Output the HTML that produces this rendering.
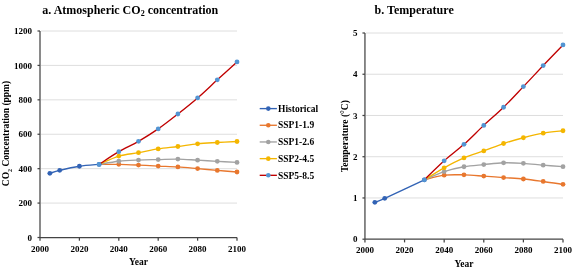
<!DOCTYPE html><html><head><meta charset="utf-8"><style>
html,body{margin:0;padding:0;background:#fff;width:575px;height:271px;overflow:hidden}
svg{display:block;filter:blur(0.35px)}
text{font-family:'Liberation Serif',serif;font-weight:bold;fill:#000}
</style></head><body>
<svg width="575" height="271" viewBox="0 0 575 271">
<line x1="41.0" y1="203.08" x2="237.0" y2="203.08" stroke="#DEDEDE" stroke-width="1"/>
<line x1="41.0" y1="168.67" x2="237.0" y2="168.67" stroke="#DEDEDE" stroke-width="1"/>
<line x1="41.0" y1="134.25" x2="237.0" y2="134.25" stroke="#DEDEDE" stroke-width="1"/>
<line x1="41.0" y1="99.83" x2="237.0" y2="99.83" stroke="#DEDEDE" stroke-width="1"/>
<line x1="41.0" y1="65.42" x2="237.0" y2="65.42" stroke="#DEDEDE" stroke-width="1"/>
<line x1="41.0" y1="31.00" x2="237.0" y2="31.00" stroke="#DEDEDE" stroke-width="1"/>
<line x1="40.0" y1="31.0" x2="40.0" y2="237.5" stroke="#444444" stroke-width="1.25"/>
<line x1="40.0" y1="237.5" x2="237.0" y2="237.5" stroke="#444444" stroke-width="1.25"/>
<line x1="37.5" y1="237.50" x2="40.0" y2="237.50" stroke="#444444" stroke-width="1.25"/>
<text x="32.0" y="240.70" font-size="9" text-anchor="end">0</text>
<line x1="37.5" y1="203.08" x2="40.0" y2="203.08" stroke="#444444" stroke-width="1.25"/>
<text x="32.0" y="206.28" font-size="9" text-anchor="end">200</text>
<line x1="37.5" y1="168.67" x2="40.0" y2="168.67" stroke="#444444" stroke-width="1.25"/>
<text x="32.0" y="171.87" font-size="9" text-anchor="end">400</text>
<line x1="37.5" y1="134.25" x2="40.0" y2="134.25" stroke="#444444" stroke-width="1.25"/>
<text x="32.0" y="137.45" font-size="9" text-anchor="end">600</text>
<line x1="37.5" y1="99.83" x2="40.0" y2="99.83" stroke="#444444" stroke-width="1.25"/>
<text x="32.0" y="103.03" font-size="9" text-anchor="end">800</text>
<line x1="37.5" y1="65.42" x2="40.0" y2="65.42" stroke="#444444" stroke-width="1.25"/>
<text x="32.0" y="68.62" font-size="9" text-anchor="end">1000</text>
<line x1="37.5" y1="31.00" x2="40.0" y2="31.00" stroke="#444444" stroke-width="1.25"/>
<text x="32.0" y="34.20" font-size="9" text-anchor="end">1200</text>
<line x1="40.00" y1="237.5" x2="40.00" y2="240.7" stroke="#444444" stroke-width="1.25"/>
<text x="40.00" y="251.5" font-size="9" text-anchor="middle">2000</text>
<line x1="79.40" y1="237.5" x2="79.40" y2="240.7" stroke="#444444" stroke-width="1.25"/>
<text x="79.40" y="251.5" font-size="9" text-anchor="middle">2020</text>
<line x1="118.80" y1="237.5" x2="118.80" y2="240.7" stroke="#444444" stroke-width="1.25"/>
<text x="118.80" y="251.5" font-size="9" text-anchor="middle">2040</text>
<line x1="158.20" y1="237.5" x2="158.20" y2="240.7" stroke="#444444" stroke-width="1.25"/>
<text x="158.20" y="251.5" font-size="9" text-anchor="middle">2060</text>
<line x1="197.60" y1="237.5" x2="197.60" y2="240.7" stroke="#444444" stroke-width="1.25"/>
<text x="197.60" y="251.5" font-size="9" text-anchor="middle">2080</text>
<line x1="237.00" y1="237.5" x2="237.00" y2="240.7" stroke="#444444" stroke-width="1.25"/>
<text x="237.00" y="251.5" font-size="9" text-anchor="middle">2100</text>
<text x="138.4" y="265" font-size="9.5" text-anchor="middle">Year</text>
<text transform="translate(9.2,133.5) rotate(-90)" font-size="9.5" text-anchor="middle">CO<tspan font-size="6" dy="2.3">2</tspan><tspan dy="-2.3"> Concentration (ppm)</tspan></text>
<text x="42.3" y="13.8" font-size="12">a. Atmospheric CO<tspan font-size="8" dy="2.5">2</tspan><tspan dy="-2.5"> concentration</tspan></text>
<path d="M99.10,164.40 C102.38,164.39 112.23,164.26 118.80,164.36 C125.37,164.47 131.93,164.77 138.50,165.05 C145.07,165.34 151.63,165.77 158.20,166.09 C164.77,166.40 171.33,166.52 177.90,166.95 C184.47,167.37 191.03,168.04 197.60,168.62 C204.17,169.19 210.73,169.85 217.30,170.42 C223.87,170.99 233.72,171.76 237.00,172.02" fill="none" stroke="#E8772E" stroke-width="1.35" stroke-linejoin="round"/>
<circle cx="118.80" cy="164.36" r="2.4" fill="#E8772E"/>
<circle cx="138.50" cy="165.05" r="2.4" fill="#E8772E"/>
<circle cx="158.20" cy="166.09" r="2.4" fill="#E8772E"/>
<circle cx="177.90" cy="166.95" r="2.4" fill="#E8772E"/>
<circle cx="197.60" cy="168.62" r="2.4" fill="#E8772E"/>
<circle cx="217.30" cy="170.42" r="2.4" fill="#E8772E"/>
<circle cx="237.00" cy="172.02" r="2.4" fill="#E8772E"/>
<path d="M99.10,164.40 C102.38,163.88 112.23,161.99 118.80,161.27 C125.37,160.54 131.93,160.35 138.50,160.06 C145.07,159.78 151.63,159.71 158.20,159.55 C164.77,159.39 171.33,158.99 177.90,159.10 C184.47,159.21 191.03,159.83 197.60,160.20 C204.17,160.57 210.73,160.93 217.30,161.30 C223.87,161.67 233.72,162.22 237.00,162.40" fill="none" stroke="#A2A2A2" stroke-width="1.35" stroke-linejoin="round"/>
<circle cx="118.80" cy="161.27" r="2.4" fill="#A2A2A2"/>
<circle cx="138.50" cy="160.06" r="2.4" fill="#A2A2A2"/>
<circle cx="158.20" cy="159.55" r="2.4" fill="#A2A2A2"/>
<circle cx="177.90" cy="159.10" r="2.4" fill="#A2A2A2"/>
<circle cx="197.60" cy="160.20" r="2.4" fill="#A2A2A2"/>
<circle cx="217.30" cy="161.30" r="2.4" fill="#A2A2A2"/>
<circle cx="237.00" cy="162.40" r="2.4" fill="#A2A2A2"/>
<path d="M99.10,164.40 C102.38,163.02 112.23,158.06 118.80,156.10 C125.37,154.15 131.93,153.87 138.50,152.66 C145.07,151.46 151.63,149.90 158.20,148.88 C164.77,147.85 171.33,147.35 177.90,146.50 C184.47,145.66 191.03,144.47 197.60,143.80 C204.17,143.14 210.73,142.90 217.30,142.51 C223.87,142.12 233.72,141.65 237.00,141.48" fill="none" stroke="#F4B600" stroke-width="1.35" stroke-linejoin="round"/>
<circle cx="118.80" cy="156.10" r="2.4" fill="#F4B600"/>
<circle cx="138.50" cy="152.66" r="2.4" fill="#F4B600"/>
<circle cx="158.20" cy="148.88" r="2.4" fill="#F4B600"/>
<circle cx="177.90" cy="146.50" r="2.4" fill="#F4B600"/>
<circle cx="197.60" cy="143.80" r="2.4" fill="#F4B600"/>
<circle cx="217.30" cy="142.51" r="2.4" fill="#F4B600"/>
<circle cx="237.00" cy="141.48" r="2.4" fill="#F4B600"/>
<path d="M49.85,173.31 C51.49,172.81 54.78,171.48 59.70,170.30 C64.62,169.13 72.83,167.24 79.40,166.26 C85.97,165.27 95.82,164.71 99.10,164.40" fill="none" stroke="#3263B5" stroke-width="1.35" stroke-linejoin="round"/>
<circle cx="49.85" cy="173.31" r="2.4" fill="#3263B5"/>
<circle cx="59.70" cy="170.30" r="2.4" fill="#3263B5"/>
<circle cx="79.40" cy="166.26" r="2.4" fill="#3263B5"/>
<circle cx="99.10" cy="164.40" r="2.4" fill="#3263B5"/>
<path d="M99.10,164.40 C102.38,162.28 112.23,155.55 118.80,151.70 C125.37,147.85 131.93,145.10 138.50,141.31 C145.07,137.51 151.63,133.47 158.20,128.92 C164.77,124.36 171.33,119.16 177.90,114.00 C184.47,108.83 191.03,103.63 197.60,97.94 C204.17,92.25 210.73,85.87 217.30,79.87 C223.87,73.88 233.72,64.96 237.00,61.97" fill="none" stroke="#C00000" stroke-width="1.35" stroke-linejoin="round"/>
<circle cx="99.10" cy="164.40" r="2.4" fill="#5395D3"/>
<circle cx="118.80" cy="151.70" r="2.4" fill="#5395D3"/>
<circle cx="138.50" cy="141.31" r="2.4" fill="#5395D3"/>
<circle cx="158.20" cy="128.92" r="2.4" fill="#5395D3"/>
<circle cx="177.90" cy="114.00" r="2.4" fill="#5395D3"/>
<circle cx="197.60" cy="97.94" r="2.4" fill="#5395D3"/>
<circle cx="217.30" cy="79.87" r="2.4" fill="#5395D3"/>
<circle cx="237.00" cy="61.97" r="2.4" fill="#5395D3"/>
<line x1="365.95" y1="197.96" x2="563.0" y2="197.96" stroke="#DEDEDE" stroke-width="1"/>
<line x1="365.95" y1="156.72" x2="563.0" y2="156.72" stroke="#DEDEDE" stroke-width="1"/>
<line x1="365.95" y1="115.48" x2="563.0" y2="115.48" stroke="#DEDEDE" stroke-width="1"/>
<line x1="365.95" y1="74.24" x2="563.0" y2="74.24" stroke="#DEDEDE" stroke-width="1"/>
<line x1="365.95" y1="33.00" x2="563.0" y2="33.00" stroke="#DEDEDE" stroke-width="1"/>
<line x1="364.95" y1="33.0" x2="364.95" y2="239.2" stroke="#444444" stroke-width="1.25"/>
<line x1="364.95" y1="239.2" x2="563.0" y2="239.2" stroke="#444444" stroke-width="1.25"/>
<line x1="362.45" y1="239.20" x2="364.95" y2="239.20" stroke="#444444" stroke-width="1.25"/>
<text x="357.45" y="242.40" font-size="9" text-anchor="end">0</text>
<line x1="362.45" y1="197.96" x2="364.95" y2="197.96" stroke="#444444" stroke-width="1.25"/>
<text x="357.45" y="201.16" font-size="9" text-anchor="end">1</text>
<line x1="362.45" y1="156.72" x2="364.95" y2="156.72" stroke="#444444" stroke-width="1.25"/>
<text x="357.45" y="159.92" font-size="9" text-anchor="end">2</text>
<line x1="362.45" y1="115.48" x2="364.95" y2="115.48" stroke="#444444" stroke-width="1.25"/>
<text x="357.45" y="118.68" font-size="9" text-anchor="end">3</text>
<line x1="362.45" y1="74.24" x2="364.95" y2="74.24" stroke="#444444" stroke-width="1.25"/>
<text x="357.45" y="77.44" font-size="9" text-anchor="end">4</text>
<line x1="362.45" y1="33.00" x2="364.95" y2="33.00" stroke="#444444" stroke-width="1.25"/>
<text x="357.45" y="36.20" font-size="9" text-anchor="end">5</text>
<line x1="364.95" y1="239.2" x2="364.95" y2="242.39999999999998" stroke="#444444" stroke-width="1.25"/>
<text x="364.95" y="253.2" font-size="9" text-anchor="middle">2000</text>
<line x1="404.56" y1="239.2" x2="404.56" y2="242.39999999999998" stroke="#444444" stroke-width="1.25"/>
<text x="404.56" y="253.2" font-size="9" text-anchor="middle">2020</text>
<line x1="444.17" y1="239.2" x2="444.17" y2="242.39999999999998" stroke="#444444" stroke-width="1.25"/>
<text x="444.17" y="253.2" font-size="9" text-anchor="middle">2040</text>
<line x1="483.78" y1="239.2" x2="483.78" y2="242.39999999999998" stroke="#444444" stroke-width="1.25"/>
<text x="483.78" y="253.2" font-size="9" text-anchor="middle">2060</text>
<line x1="523.39" y1="239.2" x2="523.39" y2="242.39999999999998" stroke="#444444" stroke-width="1.25"/>
<text x="523.39" y="253.2" font-size="9" text-anchor="middle">2080</text>
<line x1="563.00" y1="239.2" x2="563.00" y2="242.39999999999998" stroke="#444444" stroke-width="1.25"/>
<text x="563.00" y="253.2" font-size="9" text-anchor="middle">2100</text>
<text x="463.9" y="267.2" font-size="9.5" text-anchor="middle">Year</text>
<text transform="translate(347.8,136.2) rotate(-90)" font-size="9.5" text-anchor="middle">Temperature (°C)</text>
<text x="374.6" y="13.6" font-size="12">b. Temperature</text>
<path d="M424.37,179.81 C427.67,179.04 437.57,176.02 444.17,175.20 C450.77,174.37 457.37,174.71 463.98,174.87 C470.58,175.02 477.18,175.65 483.78,176.10 C490.38,176.56 496.98,177.11 503.58,177.59 C510.19,178.07 516.79,178.34 523.39,178.99 C529.99,179.64 536.59,180.57 543.19,181.46 C549.80,182.36 559.70,183.87 563.00,184.35" fill="none" stroke="#E8772E" stroke-width="1.35" stroke-linejoin="round"/>
<circle cx="444.17" cy="175.20" r="2.4" fill="#E8772E"/>
<circle cx="463.98" cy="174.87" r="2.4" fill="#E8772E"/>
<circle cx="483.78" cy="176.10" r="2.4" fill="#E8772E"/>
<circle cx="503.58" cy="177.59" r="2.4" fill="#E8772E"/>
<circle cx="523.39" cy="178.99" r="2.4" fill="#E8772E"/>
<circle cx="543.19" cy="181.46" r="2.4" fill="#E8772E"/>
<circle cx="563.00" cy="184.35" r="2.4" fill="#E8772E"/>
<path d="M424.37,179.81 C427.67,178.44 437.57,173.75 444.17,171.57 C450.77,169.39 457.37,167.91 463.98,166.74 C470.58,165.57 477.18,165.22 483.78,164.56 C490.38,163.90 496.98,162.99 503.58,162.78 C510.19,162.58 516.79,162.92 523.39,163.32 C529.99,163.72 536.59,164.61 543.19,165.17 C549.80,165.74 559.70,166.45 563.00,166.70" fill="none" stroke="#A2A2A2" stroke-width="1.35" stroke-linejoin="round"/>
<circle cx="444.17" cy="171.57" r="2.4" fill="#A2A2A2"/>
<circle cx="463.98" cy="166.74" r="2.4" fill="#A2A2A2"/>
<circle cx="483.78" cy="164.56" r="2.4" fill="#A2A2A2"/>
<circle cx="503.58" cy="162.78" r="2.4" fill="#A2A2A2"/>
<circle cx="523.39" cy="163.32" r="2.4" fill="#A2A2A2"/>
<circle cx="543.19" cy="165.17" r="2.4" fill="#A2A2A2"/>
<circle cx="563.00" cy="166.70" r="2.4" fill="#A2A2A2"/>
<path d="M424.37,179.81 C427.67,177.82 437.57,171.50 444.17,167.85 C450.77,164.21 457.37,160.78 463.98,157.96 C470.58,155.14 477.18,153.35 483.78,150.95 C490.38,148.54 496.98,145.72 503.58,143.52 C510.19,141.32 516.79,139.47 523.39,137.75 C529.99,136.03 536.59,134.38 543.19,133.21 C549.80,132.04 559.70,131.15 563.00,130.74" fill="none" stroke="#F4B600" stroke-width="1.35" stroke-linejoin="round"/>
<circle cx="444.17" cy="167.85" r="2.4" fill="#F4B600"/>
<circle cx="463.98" cy="157.96" r="2.4" fill="#F4B600"/>
<circle cx="483.78" cy="150.95" r="2.4" fill="#F4B600"/>
<circle cx="503.58" cy="143.52" r="2.4" fill="#F4B600"/>
<circle cx="523.39" cy="137.75" r="2.4" fill="#F4B600"/>
<circle cx="543.19" cy="133.21" r="2.4" fill="#F4B600"/>
<circle cx="563.00" cy="130.74" r="2.4" fill="#F4B600"/>
<path d="M374.85,202.29 C376.50,201.64 376.50,202.12 384.75,198.37 C393.01,194.63 417.76,182.91 424.37,179.81" fill="none" stroke="#3263B5" stroke-width="1.35" stroke-linejoin="round"/>
<circle cx="374.85" cy="202.29" r="2.4" fill="#3263B5"/>
<circle cx="384.75" cy="198.37" r="2.4" fill="#3263B5"/>
<circle cx="424.37" cy="179.81" r="2.4" fill="#3263B5"/>
<path d="M424.37,179.81 C427.67,176.65 437.57,166.76 444.17,160.84 C450.77,154.93 457.37,150.26 463.98,144.35 C470.58,138.44 477.18,131.56 483.78,125.38 C490.38,119.19 496.98,113.69 503.58,107.23 C510.19,100.77 516.79,93.55 523.39,86.61 C529.99,79.67 536.59,72.52 543.19,65.58 C549.80,58.64 559.70,48.40 563.00,44.96" fill="none" stroke="#C00000" stroke-width="1.35" stroke-linejoin="round"/>
<circle cx="424.37" cy="179.81" r="2.4" fill="#5395D3"/>
<circle cx="444.17" cy="160.84" r="2.4" fill="#5395D3"/>
<circle cx="463.98" cy="144.35" r="2.4" fill="#5395D3"/>
<circle cx="483.78" cy="125.38" r="2.4" fill="#5395D3"/>
<circle cx="503.58" cy="107.23" r="2.4" fill="#5395D3"/>
<circle cx="523.39" cy="86.61" r="2.4" fill="#5395D3"/>
<circle cx="543.19" cy="65.58" r="2.4" fill="#5395D3"/>
<circle cx="563.00" cy="44.96" r="2.4" fill="#5395D3"/>
<line x1="259.7" y1="108.60" x2="276.9" y2="108.60" stroke="#3263B5" stroke-width="1.35"/>
<circle cx="268.3" cy="108.60" r="2.3" fill="#3263B5"/>
<text x="278" y="111.80" font-size="9.5">Historical</text>
<line x1="259.7" y1="125.28" x2="276.9" y2="125.28" stroke="#E8772E" stroke-width="1.35"/>
<circle cx="268.3" cy="125.28" r="2.3" fill="#E8772E"/>
<text x="278" y="128.48" font-size="9.5">SSP1-1.9</text>
<line x1="259.7" y1="141.96" x2="276.9" y2="141.96" stroke="#A2A2A2" stroke-width="1.35"/>
<circle cx="268.3" cy="141.96" r="2.3" fill="#A2A2A2"/>
<text x="278" y="145.16" font-size="9.5">SSP1-2.6</text>
<line x1="259.7" y1="158.64" x2="276.9" y2="158.64" stroke="#F4B600" stroke-width="1.35"/>
<circle cx="268.3" cy="158.64" r="2.3" fill="#F4B600"/>
<text x="278" y="161.84" font-size="9.5">SSP2-4.5</text>
<line x1="259.7" y1="175.32" x2="276.9" y2="175.32" stroke="#C00000" stroke-width="1.35"/>
<circle cx="268.3" cy="175.32" r="2.3" fill="#5395D3"/>
<text x="278" y="178.52" font-size="9.5">SSP5-8.5</text>
</svg></body></html>
